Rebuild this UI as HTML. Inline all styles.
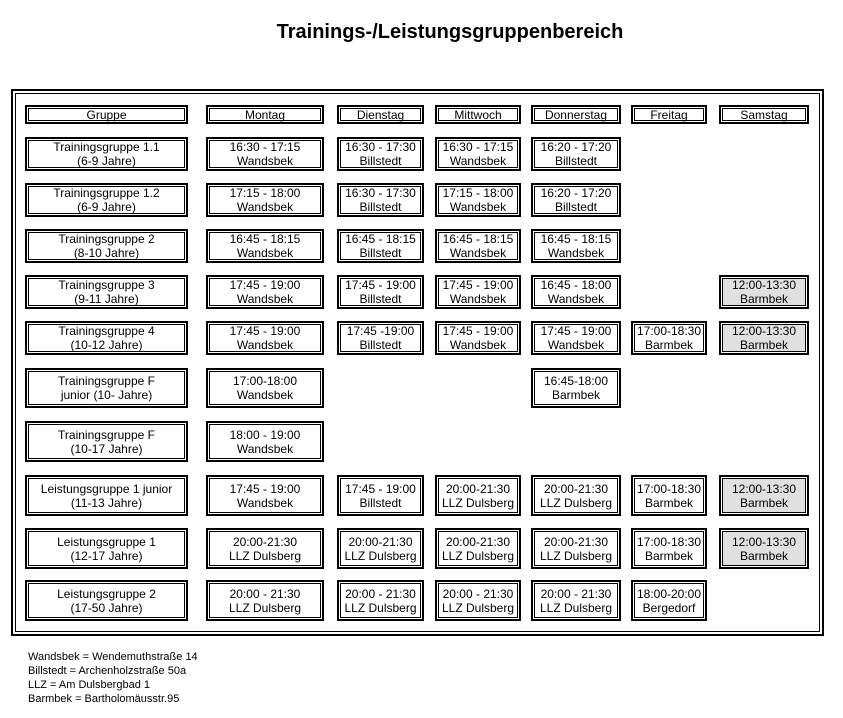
<!DOCTYPE html>
<html><head><meta charset="utf-8"><style>
*{margin:0;padding:0;box-sizing:border-box}
body{width:843px;height:718px;background:#fff;position:relative;font-family:"Liberation Sans",Arial,sans-serif;color:#000;overflow:hidden}
.t{position:absolute;left:0;width:900px;top:21px;text-align:center;font-weight:bold;font-size:20px}
.frame{position:absolute;left:11px;top:89px;width:813px;height:547px;border:2px solid #000;box-shadow:inset 0 0 0 2px #fff,inset 0 0 0 3px #000}
.c{position:absolute;border:2px solid #000;box-shadow:inset 0 0 0 1px #fff,inset 0 0 0 2px #000;display:flex;flex-direction:column;justify-content:center;align-items:center;font-size:12px;line-height:14px;text-align:center;background:#fff;white-space:nowrap}
.g{background:#e0e0e0}
.f{position:absolute;left:28px;top:650px;font-size:11px;line-height:14px}
</style></head><body>
<div class="t">Trainings-/Leistungsgruppenbereich</div>
<div class="frame"></div>

<div class="c" style="left:25px;top:105px;width:163px;height:19px">Gruppe</div>
<div class="c" style="left:206px;top:105px;width:118px;height:19px">Montag</div>
<div class="c" style="left:337px;top:105px;width:87px;height:19px">Dienstag</div>
<div class="c" style="left:435px;top:105px;width:86px;height:19px">Mittwoch</div>
<div class="c" style="left:531px;top:105px;width:90px;height:19px">Donnerstag</div>
<div class="c" style="left:631px;top:105px;width:76px;height:19px">Freitag</div>
<div class="c" style="left:719px;top:105px;width:90px;height:19px">Samstag</div>

<div class="c" style="left:25px;top:137px;width:163px;height:34px">Trainingsgruppe 1.1<br>(6-9 Jahre)</div>
<div class="c" style="left:206px;top:137px;width:118px;height:34px">16:30 - 17:15<br>Wandsbek</div>
<div class="c" style="left:337px;top:137px;width:87px;height:34px">16:30 - 17:30<br>Billstedt</div>
<div class="c" style="left:435px;top:137px;width:86px;height:34px">16:30 - 17:15<br>Wandsbek</div>
<div class="c" style="left:531px;top:137px;width:90px;height:34px">16:20 - 17:20<br>Billstedt</div>

<div class="c" style="left:25px;top:183px;width:163px;height:34px">Trainingsgruppe 1.2<br>(6-9 Jahre)</div>
<div class="c" style="left:206px;top:183px;width:118px;height:34px">17:15 - 18:00<br>Wandsbek</div>
<div class="c" style="left:337px;top:183px;width:87px;height:34px">16:30 - 17:30<br>Billstedt</div>
<div class="c" style="left:435px;top:183px;width:86px;height:34px">17:15 - 18:00<br>Wandsbek</div>
<div class="c" style="left:531px;top:183px;width:90px;height:34px">16:20 - 17:20<br>Billstedt</div>

<div class="c" style="left:25px;top:229px;width:163px;height:34px">Trainingsgruppe 2<br>(8-10 Jahre)</div>
<div class="c" style="left:206px;top:229px;width:118px;height:34px">16:45 - 18:15<br>Wandsbek</div>
<div class="c" style="left:337px;top:229px;width:87px;height:34px">16:45 - 18:15<br>Billstedt</div>
<div class="c" style="left:435px;top:229px;width:86px;height:34px">16:45 - 18:15<br>Wandsbek</div>
<div class="c" style="left:531px;top:229px;width:90px;height:34px">16:45 - 18:15<br>Wandsbek</div>

<div class="c" style="left:25px;top:275px;width:163px;height:34px">Trainingsgruppe 3<br>(9-11 Jahre)</div>
<div class="c" style="left:206px;top:275px;width:118px;height:34px">17:45 - 19:00<br>Wandsbek</div>
<div class="c" style="left:337px;top:275px;width:87px;height:34px">17:45 - 19:00<br>Billstedt</div>
<div class="c" style="left:435px;top:275px;width:86px;height:34px">17:45 - 19:00<br>Wandsbek</div>
<div class="c" style="left:531px;top:275px;width:90px;height:34px">16:45 - 18:00<br>Wandsbek</div>
<div class="c g" style="left:719px;top:275px;width:90px;height:34px">12:00-13:30<br>Barmbek</div>

<div class="c" style="left:25px;top:321px;width:163px;height:34px">Trainingsgruppe 4<br>(10-12 Jahre)</div>
<div class="c" style="left:206px;top:321px;width:118px;height:34px">17:45 - 19:00<br>Wandsbek</div>
<div class="c" style="left:337px;top:321px;width:87px;height:34px">17:45 -19:00<br>Billstedt</div>
<div class="c" style="left:435px;top:321px;width:86px;height:34px">17:45 - 19:00<br>Wandsbek</div>
<div class="c" style="left:531px;top:321px;width:90px;height:34px">17:45 - 19:00<br>Wandsbek</div>
<div class="c" style="left:631px;top:321px;width:76px;height:34px">17:00-18:30<br>Barmbek</div>
<div class="c g" style="left:719px;top:321px;width:90px;height:34px">12:00-13:30<br>Barmbek</div>

<div class="c" style="left:25px;top:368px;width:163px;height:40px">Trainingsgruppe F<br>junior (10- Jahre)</div>
<div class="c" style="left:206px;top:368px;width:118px;height:40px">17:00-18:00<br>Wandsbek</div>
<div class="c" style="left:531px;top:368px;width:90px;height:40px">16:45-18:00<br>Barmbek</div>

<div class="c" style="left:25px;top:421px;width:163px;height:41px">Trainingsgruppe F<br>(10-17 Jahre)</div>
<div class="c" style="left:206px;top:421px;width:118px;height:41px">18:00 - 19:00<br>Wandsbek</div>

<div class="c" style="left:25px;top:475px;width:163px;height:41px">Leistungsgruppe 1 junior<br>(11-13 Jahre)</div>
<div class="c" style="left:206px;top:475px;width:118px;height:41px">17:45 - 19:00<br>Wandsbek</div>
<div class="c" style="left:337px;top:475px;width:87px;height:41px">17:45 - 19:00<br>Billstedt</div>
<div class="c" style="left:435px;top:475px;width:86px;height:41px">20:00-21:30<br>LLZ Dulsberg</div>
<div class="c" style="left:531px;top:475px;width:90px;height:41px">20:00-21:30<br>LLZ Dulsberg</div>
<div class="c" style="left:631px;top:475px;width:76px;height:41px">17:00-18:30<br>Barmbek</div>
<div class="c g" style="left:719px;top:475px;width:90px;height:41px">12:00-13:30<br>Barmbek</div>

<div class="c" style="left:25px;top:528px;width:163px;height:41px">Leistungsgruppe 1<br>(12-17 Jahre)</div>
<div class="c" style="left:206px;top:528px;width:118px;height:41px">20:00-21:30<br>LLZ Dulsberg</div>
<div class="c" style="left:337px;top:528px;width:87px;height:41px">20:00-21:30<br>LLZ Dulsberg</div>
<div class="c" style="left:435px;top:528px;width:86px;height:41px">20:00-21:30<br>LLZ Dulsberg</div>
<div class="c" style="left:531px;top:528px;width:90px;height:41px">20:00-21:30<br>LLZ Dulsberg</div>
<div class="c" style="left:631px;top:528px;width:76px;height:41px">17:00-18:30<br>Barmbek</div>
<div class="c g" style="left:719px;top:528px;width:90px;height:41px">12:00-13:30<br>Barmbek</div>

<div class="c" style="left:25px;top:580px;width:163px;height:41px">Leistungsgruppe 2<br>(17-50 Jahre)</div>
<div class="c" style="left:206px;top:580px;width:118px;height:41px">20:00 - 21:30<br>LLZ Dulsberg</div>
<div class="c" style="left:337px;top:580px;width:87px;height:41px">20:00 - 21:30<br>LLZ Dulsberg</div>
<div class="c" style="left:435px;top:580px;width:86px;height:41px">20:00 - 21:30<br>LLZ Dulsberg</div>
<div class="c" style="left:531px;top:580px;width:90px;height:41px">20:00 - 21:30<br>LLZ Dulsberg</div>
<div class="c" style="left:631px;top:580px;width:76px;height:41px">18:00-20:00<br>Bergedorf</div>

<div class="f">Wandsbek = Wendemuthstraße 14<br>Billstedt = Archenholzstraße 50a<br>LLZ = Am Dulsbergbad 1<br>Barmbek = Bartholomäusstr.95</div>
</body></html>
